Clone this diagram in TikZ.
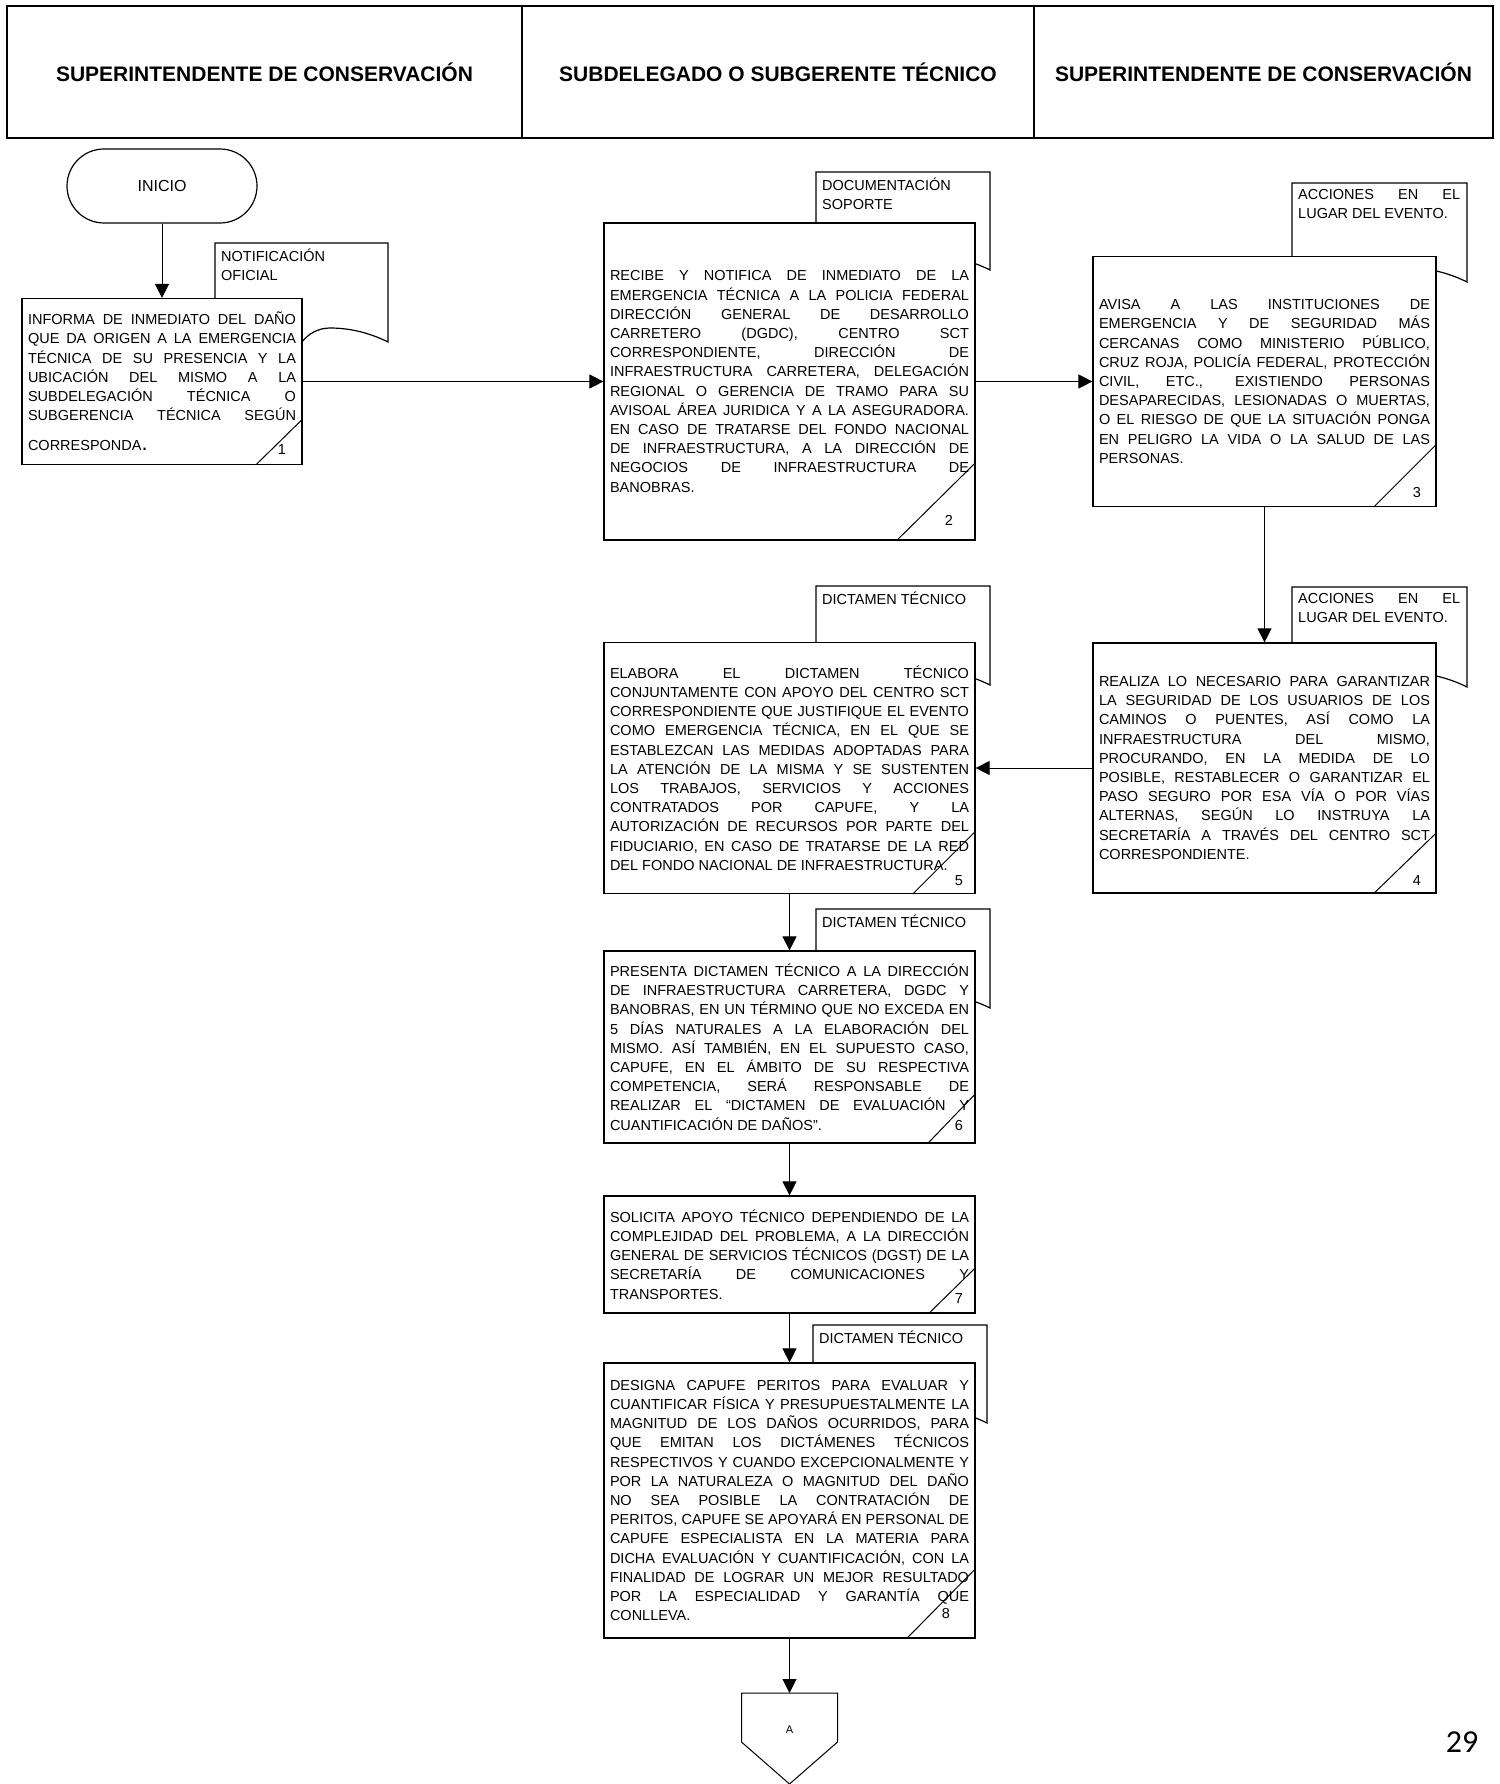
\documentclass[tikz,border=0pt]{standalone}
\usepackage{fontspec}
\setmainfont{Liberation Sans}
\newfontfamily\pagenumfont{Carlito}
\usepackage{tikz}
\usetikzlibrary{arrows.meta, positioning}
\tolerance=10000
\hyphenpenalty=10000
\newcommand{\boxfont}{\fontsize{14.5}{19.2}\selectfont}
\newcommand{\headfont}{\fontsize{21}{25}\selectfont\bfseries}
% document shape: name, left, top, right, bottom at right edge, text
\newcommand{\docnote}[6]{%
  \draw[docline] (#2,#3) -- (#4,#3) -- (#4,#5)
    .. controls ({#4-20},{#5-10}) and ({#4-40},{#5-14}) .. ({#4-58},{#5-14})
    .. controls ({#4-70},{#5-14}) and ({#4-80},{#5-8}) .. ({#4-86},#5)
    .. controls ({#4-100},{#5+12}) and ({#2+30},{#5+14}) .. (#2,{#5+6}) -- cycle;
  \node[doctext] (#1) at (#2,#3) {#6};
}

\begin{document}
\begin{tikzpicture}[x=1pt, y=-1pt,
  lane/.style={draw, line width=1.2pt, minimum height=132pt, inner sep=0pt, font=\headfont},
  procbox/.style={draw, line width=1.2pt, fill=white, inner sep=0pt, align=justify, font=\boxfont},
  terminal/.style={draw, line width=1.2pt, rounded corners=37pt, minimum width=190pt, minimum height=74pt, font={\fontsize{16}{19}\selectfont}},
  doctext/.style={anchor=north west, inner sep=6pt, text width=162pt, align=justify, font=\boxfont},
  docline/.style={draw, line width=1.2pt, fill=white},
  cornerline/.style={line width=1pt},
  steplbl/.style={font=\boxfont, inner sep=0pt},
  flow/.style={line width=1pt, -{Triangle[length=14pt, width=14pt]}}
]
  \fill[white] (0,0) rectangle (1499,1784);
  \useasboundingbox (0,0) rectangle (1499,1784);

  \node[lane, minimum width=515pt] (lane1) at (264.5,72) {SUPERINTENDENTE DE CONSERVACIÓN};
  \node[lane, minimum width=512pt] (lane2) at (778,72) {SUBDELEGADO O SUBGERENTE TÉCNICO};
  \node[lane, minimum width=459pt] (lane3) at (1263.5,72) {SUPERINTENDENTE DE CONSERVACIÓN};

  \node[terminal] (inicio) at (162,186) {INICIO};

  \docnote{docnotif}{215}{243}{388}{342}{NOTIFICACIÓN OFICIAL}
  \docnote{docsoporte}{816}{172}{990}{270}{DOCUMENTACIÓN SOPORTE}
  \docnote{docacc1}{1292}{183}{1467}{282}{ACCIONES EN EL\linebreak LUGAR DEL EVENTO.}
  \docnote{docacc2}{1292}{587}{1467}{687}{ACCIONES EN EL\linebreak LUGAR DEL EVENTO.}
  \docnote{docdict1}{816}{586}{990}{685}{DICTAMEN TÉCNICO}
  \docnote{docdict2}{816}{909}{990}{1008}{DICTAMEN TÉCNICO}
  \docnote{docdict3}{813}{1325}{987}{1423}{DICTAMEN TÉCNICO}

  \node[procbox, minimum width=280pt, minimum height=166pt, text width=268pt] (box1) at (162,381.5) {INFORMA DE INMEDIATO DEL DAÑO\linebreak QUE DA ORIGEN A LA EMERGENCIA\linebreak TÉCNICA DE SU PRESENCIA Y LA\linebreak UBICACIÓN DEL MISMO A LA\linebreak SUBDELEGACIÓN TÉCNICA O\linebreak SUBGERENCIA TÉCNICA SEGÚN\vadjust{\vskip 11pt}\linebreak CORRESPONDA{\fontsize{22}{19.2}\selectfont .}};
  \node[procbox, minimum width=371pt, minimum height=317pt, text width=359pt] (box2) at (789.5,381.5) {RECIBE Y NOTIFICA DE INMEDIATO DE LA\linebreak EMERGENCIA TÉCNICA A LA POLICIA FEDERAL\linebreak DIRECCIÓN GENERAL DE DESARROLLO\linebreak CARRETERO (DGDC), CENTRO SCT\linebreak CORRESPONDIENTE, DIRECCIÓN DE\linebreak INFRAESTRUCTURA CARRETERA, DELEGACIÓN\linebreak REGIONAL O GERENCIA DE TRAMO PARA SU\linebreak AVISOAL ÁREA JURIDICA Y A LA ASEGURADORA.\linebreak EN CASO DE TRATARSE DEL FONDO NACIONAL\linebreak DE INFRAESTRUCTURA, A LA DIRECCIÓN DE\linebreak NEGOCIOS DE INFRAESTRUCTURA DE\linebreak BANOBRAS.};
  \node[procbox, minimum width=343pt, minimum height=250pt, text width=331pt] (box3) at (1264.5,381.5) {AVISA A LAS INSTITUCIONES DE\linebreak EMERGENCIA Y DE SEGURIDAD MÁS\linebreak CERCANAS COMO MINISTERIO PÚBLICO,\linebreak CRUZ ROJA, POLICÍA FEDERAL, PROTECCIÓN\linebreak CIVIL, ETC., EXISTIENDO PERSONAS\linebreak DESAPARECIDAS, LESIONADAS O MUERTAS,\linebreak O EL RIESGO DE QUE LA SITUACIÓN PONGA\linebreak EN PELIGRO LA VIDA O LA SALUD DE LAS\linebreak PERSONAS.};
  \node[procbox, minimum width=343pt, minimum height=250pt, text width=331pt] (box4) at (1264.5,768) {REALIZA LO NECESARIO PARA GARANTIZAR\linebreak LA SEGURIDAD DE LOS USUARIOS DE LOS\linebreak CAMINOS O PUENTES, ASÍ COMO LA\linebreak INFRAESTRUCTURA DEL MISMO,\linebreak PROCURANDO, EN LA MEDIDA DE LO\linebreak POSIBLE, RESTABLECER O GARANTIZAR EL\linebreak PASO SEGURO POR ESA VÍA O POR VÍAS\linebreak ALTERNAS, SEGÚN LO INSTRUYA LA\linebreak SECRETARÍA A TRAVÉS DEL CENTRO SCT\linebreak CORRESPONDIENTE.};
  \node[procbox, minimum width=371pt, minimum height=251pt, text width=359pt] (box5) at (789.5,768) {ELABORA EL DICTAMEN TÉCNICO\linebreak CONJUNTAMENTE CON APOYO DEL CENTRO SCT\linebreak CORRESPONDIENTE QUE JUSTIFIQUE EL EVENTO\linebreak COMO EMERGENCIA TÉCNICA, EN EL QUE SE\linebreak ESTABLEZCAN LAS MEDIDAS ADOPTADAS PARA\linebreak LA ATENCIÓN DE LA MISMA Y SE SUSTENTEN\linebreak LOS TRABAJOS, SERVICIOS Y ACCIONES\linebreak CONTRATADOS POR CAPUFE, Y LA\linebreak AUTORIZACIÓN DE RECURSOS POR PARTE DEL\linebreak FIDUCIARIO, EN CASO DE TRATARSE DE LA RED\linebreak DEL FONDO NACIONAL DE INFRAESTRUCTURA.};
  \node[procbox, minimum width=371pt, minimum height=192pt, text width=359pt] (box6) at (789.5,1047) {PRESENTA DICTAMEN TÉCNICO A LA DIRECCIÓN\linebreak DE INFRAESTRUCTURA CARRETERA, DGDC Y\linebreak BANOBRAS, EN UN TÉRMINO QUE NO EXCEDA EN\linebreak 5 DÍAS NATURALES A LA ELABORACIÓN DEL\linebreak MISMO. ASÍ TAMBIÉN, EN EL SUPUESTO CASO,\linebreak CAPUFE, EN EL ÁMBITO DE SU RESPECTIVA\linebreak COMPETENCIA, SERÁ RESPONSABLE DE\linebreak REALIZAR EL “DICTAMEN DE EVALUACIÓN Y\linebreak CUANTIFICACIÓN DE DAÑOS”.};
  \node[procbox, minimum width=371pt, minimum height=117pt, text width=359pt] (box7) at (789.5,1254.5) {SOLICITA APOYO TÉCNICO DEPENDIENDO DE LA\linebreak COMPLEJIDAD DEL PROBLEMA, A LA DIRECCIÓN\linebreak GENERAL DE SERVICIOS TÉCNICOS (DGST) DE LA\linebreak SECRETARÍA DE COMUNICACIONES Y\linebreak TRANSPORTES.};
  \node[procbox, minimum width=371pt, minimum height=275pt, text width=359pt] (box8) at (789.5,1500.5) {DESIGNA CAPUFE PERITOS PARA EVALUAR Y\linebreak CUANTIFICAR FÍSICA Y PRESUPUESTALMENTE LA\linebreak MAGNITUD DE LOS DAÑOS OCURRIDOS, PARA\linebreak QUE EMITAN LOS DICTÁMENES TÉCNICOS\linebreak RESPECTIVOS Y CUANDO EXCEPCIONALMENTE Y\linebreak POR LA NATURALEZA O MAGNITUD DEL DAÑO\linebreak NO SEA POSIBLE LA CONTRATACIÓN DE\linebreak PERITOS, CAPUFE SE APOYARÁ EN PERSONAL DE\linebreak CAPUFE ESPECIALISTA EN LA MATERIA PARA\linebreak DICHA EVALUACIÓN Y CUANTIFICACIÓN, CON LA\linebreak FINALIDAD DE LOGRAR UN MEJOR RESULTADO\linebreak POR LA ESPECIALIDAD Y GARANTÍA QUE\linebreak CONLLEVA.};

  \draw[cornerline] (box1.south east) ++(-47,0) -- ++(47,-46);
  \draw[cornerline] (box2.south east) ++(-79,0) -- ++(79,-78);
  \draw[cornerline] (box3.south east) ++(-63,0) -- ++(63,-63);
  \draw[cornerline] (box4.south east) ++(-63,0) -- ++(63,-61);
  \draw[cornerline] (box5.south east) ++(-63,0) -- ++(63,-63);
  \draw[cornerline] (box6.south east) ++(-48,0) -- ++(48,-50);
  \draw[cornerline] (box7.south east) ++(-47,0) -- ++(47,-46);
  \draw[cornerline] (box8.south east) ++(-69,0) -- ++(69,-70);

  \node[steplbl] (num1) at (282,450) {1};
  \node[steplbl] (num2) at (949,520) {2};
  \node[steplbl] (num3) at (1417,493) {3};
  \node[steplbl] (num4) at (1417,881) {4};
  \node[steplbl] (num5) at (959,881) {5};
  \node[steplbl] (num6) at (959,1125) {6};
  \node[steplbl] (num7) at (959,1298) {7};
  \node[steplbl] (num8) at (946,1613) {8};

  \coordinate (conA) at (789.5,1693);
  \draw[line width=1pt] (conA) -- ++(48,0) -- ++(0,49) -- ++(-48,42) -- ++(-48,-42) -- ++(0,-49) -- cycle;
  \node[font={\fontsize{11}{13}\selectfont}] (conAlbl) at (789.5,1730) {A};

  \draw[flow] (inicio) -- (box1);
  \draw[flow] (box1) -- (box2);
  \draw[flow] (box2) -- (box3);
  \draw[flow] (box3) -- (box4);
  \draw[flow] (box4) -- (box5);
  \draw[flow] (box5) -- (box6);
  \draw[flow] (box6) -- (box7);
  \draw[flow] (box7) -- (box8);
  \draw[flow] (box8.south) -- (conA);

  \node[font={\pagenumfont\fontsize{32}{32}\selectfont}] (pagenum) at (1462,1742) {29};
\end{tikzpicture}
\end{document}
